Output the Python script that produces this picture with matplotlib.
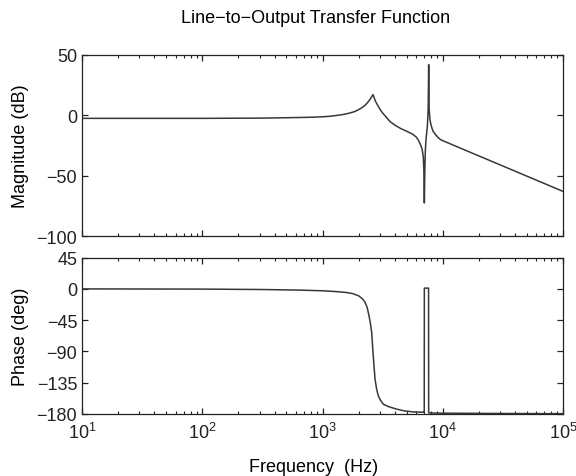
import numpy as np
import matplotlib
matplotlib.use('Agg')
import matplotlib.pyplot as plt
from matplotlib.ticker import LogLocator, FixedLocator, NullFormatter

plt.rcParams['font.family'] = ['Liberation Sans', 'DejaVu Sans']

# magnitude curve (Hz, dB)
mag_freq = [10, 31.6, 100, 316, 631, 794, 1000, 1148, 1259, 1445, 1585, 1698,
            1862, 1995, 2138, 2239, 2344, 2455, 2541, 2630, 2692, 2754, 2851,
            2951, 3020, 3162, 3388, 3631, 3981, 4467, 5012, 5623, 6026, 6310,
            6607, 6761, 6887, 6966, 7031, 7096, 7161, 7244, 7362, 7447, 7568,
            7638, 7709, 7834, 7943, 8128, 8318, 8710, 9120, 9550, 10000, 15850,
            25120, 39810, 63100, 100000]
mag_db = [-2.5, -2.5, -2.5, -2.3, -1.8, -1.6, -1.2, -0.8, -0.3, 0.5, 1.3, 2.0,
          3.2, 4.7, 6.5, 8.0, 10.0, 12.5, 14.8, 17.2, 14.5, 11.8, 9.0,
          6.5, 4.7, 2.0, -1.5, -5.0, -8.0, -10.9, -13.2, -15.6, -18.0, -21.0,
          -25.5, -29.0, -34.0, -45.0, -72.6, -45.0, -30.0, -21.0, -14.0, -9.0, 5.0,
          42.0, 5.0, -3.6, -7.0, -10.5, -13.3, -16.0, -18.2, -20.0, -21.0, -29.4,
          -37.8, -46.2, -54.6, -63.0]

# phase curve (Hz, deg)
ph_freq = [10, 100, 316, 631, 1000, 1259, 1585, 1778, 1995, 2138, 2254, 2344,
           2404, 2483, 2564, 2600, 2642, 2692, 2735, 2818, 2911, 3055, 3206,
           3548, 4140, 4786, 5689, 6887, 7015, 7031, 7621, 7638, 10000, 31620,
           100000]
ph_deg = [-0.1, -0.4, -1.0, -1.8, -2.8, -3.8, -5.3, -6.8, -10.0, -14.0, -19.0, -26.0,
          -34.0, -46.0, -62.5, -78.0, -96.0, -115.0, -130.0, -144.0, -154.0, -161.0, -166.0,
          -169.5, -173.0, -175.5, -177.0, -177.5, -177.5, 1.0, 1.0, -178.5, -178.8, -179.3,
          -179.6]

mag_ticks = [-100, -50, 0, 50]
ph_ticks = [-180, -135, -90, -45, 0, 45]

fig = plt.figure(figsize=(5.76, 4.77), dpi=100)
ax1 = fig.add_axes([0.1424, 0.5031, 0.835, 0.3795])
ax2 = fig.add_axes([0.1424, 0.1300, 0.835, 0.3280])

line_col = '#383838'
ax1.semilogx(mag_freq, mag_db, color=line_col, lw=1.1, solid_joinstyle='round')
ax2.semilogx(ph_freq, ph_deg, color=line_col, lw=1.1, solid_joinstyle='round')

for ax in (ax1, ax2):
    ax.set_xlim(10, 1e5)
    ax.xaxis.set_major_locator(LogLocator(base=10, numticks=10))
    ax.xaxis.set_minor_locator(LogLocator(base=10, subs=np.arange(2, 10), numticks=20))
    ax.xaxis.set_minor_formatter(NullFormatter())
    ax.tick_params(which='both', direction='in', top=True, right=True,
                   labelsize=13, colors='#222222')
    ax.tick_params(which='major', length=4, width=0.9)
    ax.tick_params(which='minor', length=2.5, width=0.8)
    ax.tick_params(axis='x', pad=6)
    for s in ax.spines.values():
        s.set_color('#222222')
        s.set_linewidth(0.9)

ax1.set_ylim(-100, 50)
ax1.yaxis.set_major_locator(FixedLocator(mag_ticks))
ax1.xaxis.set_major_formatter(NullFormatter())
ax1.set_ylabel('Magnitude (dB)', fontsize=13)

ax2.set_ylim(-180, 45)
ax2.yaxis.set_major_locator(FixedLocator(ph_ticks))
ax2.set_ylabel('Phase (deg)', fontsize=13)

ax1.yaxis.set_label_coords(-0.11, 0.5)
ax2.yaxis.set_label_coords(-0.11, 0.5)

fig.text(0.547, 0.978, 'Line\u2212to\u2212Output Transfer Function',
         ha='center', va='top', fontsize=13)
fig.text(0.545, 0.0385, 'Frequency  (Hz)', ha='center', va='top', fontsize=13)

fig.savefig('out.png', dpi=100)
